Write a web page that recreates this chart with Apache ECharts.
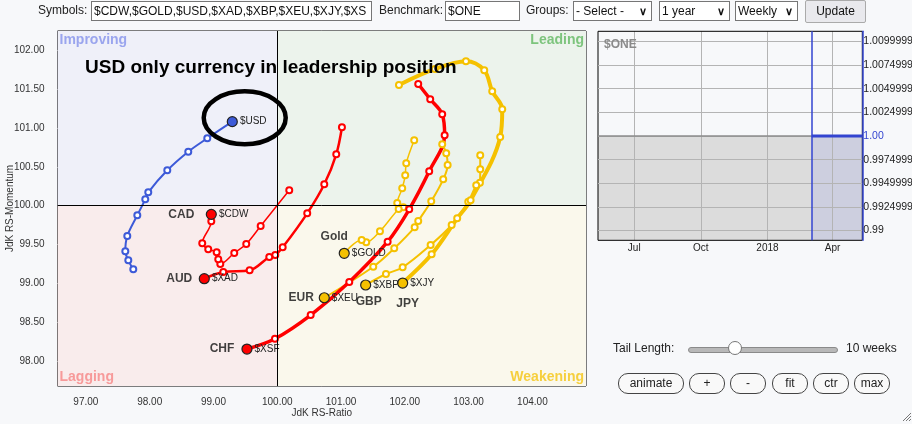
<!DOCTYPE html>
<html>
<head>
<meta charset="utf-8">
<script src="https://cdn.jsdelivr.net/npm/echarts@6/dist/echarts.min.js"></script>
<style>
html, body { margin: 0; padding: 0; background: #f7f8fa; font-family: Arial, 'Liberation Sans', sans-serif; font-size: 12px; color: #222; }
#wrap { position: relative; width: 912px; height: 424px; overflow: hidden; }
#chart { position: absolute; left: 0; top: 0; width: 912px; height: 424px; }
.ui { position: absolute; z-index: 5; }
.lbl { line-height: 20px; top: 0; }
.box { top: 1px; height: 20px; box-sizing: border-box; border: 1px solid #767676; background: #fff; font: 12px Arial, 'Liberation Sans', sans-serif; padding: 0 2px; line-height: 18px; white-space: nowrap; overflow: hidden; color: #111; }
.sel { top: 1px; height: 20px; box-sizing: border-box; border: 1px solid #767676; background: #fff; font: 12px Arial, 'Liberation Sans', sans-serif; padding: 0 2px; line-height: 18px; color: #111; }
.sel:after { content: '\2228'; position: absolute; right: 4px; top: 0; font-size: 11px; font-weight: bold; }
.btn { top: 0; height: 23px; box-sizing: border-box; border: 1px solid #aaa; background: #e9e9ed; border-radius: 2px; text-align: center; line-height: 21px; color: #111; }
.pill { top: 373px; height: 21px; box-sizing: border-box; border: 1px solid #444; border-radius: 10px; background: #f9f9f9; text-align: center; line-height: 19px; font-size: 12px; color: #222; }
.track { left: 688px; top: 347px; width: 148px; height: 4px; border: 1px solid #8a8a8a; border-radius: 3px; background: #b8b8b8; }
.knob { left: 728px; top: 341px; width: 14px; height: 14px; box-sizing: border-box; border: 1px solid #777; border-radius: 50%; background: #fff; }
</style>
</head>
<body>
<div id="wrap">
  <div id="chart"></div>

  <!-- top bar -->
  <div class="ui lbl" style="left:38px">Symbols:</div>
  <div class="ui box" style="left:91px;width:281px">$CDW,$GOLD,$USD,$XAD,$XBP,$XEU,$XJY,$XS</div>
  <div class="ui lbl" style="left:379px">Benchmark:</div>
  <div class="ui box" style="left:445px;width:75px">$ONE</div>
  <div class="ui lbl" style="left:526px">Groups:</div>
  <div class="ui sel" style="left:573px;width:79px">- Select -</div>
  <div class="ui sel" style="left:659px;width:71px">1 year</div>
  <div class="ui sel" style="left:735px;width:63px">Weekly</div>
  <div class="ui btn" style="left:805px;width:61px">Update</div>

  <!-- tail controls -->
  <div class="ui" style="left:613px;top:341px">Tail Length:</div>
  <div class="ui track"></div>
  <div class="ui knob"></div>
  <div class="ui" style="left:846px;top:341px">10 weeks</div>
  <div class="ui pill" style="left:618px;width:66px">animate</div>
  <div class="ui pill" style="left:689px;width:36px">+</div>
  <div class="ui pill" style="left:730px;width:36px">-</div>
  <div class="ui pill" style="left:772px;width:36px">fit</div>
  <div class="ui pill" style="left:813px;width:36px">ctr</div>
  <div class="ui pill" style="left:854px;width:36px">max</div>
  <svg class="ui" style="left:902px;top:412px" width="10" height="10">
    <path d="M1 9 L9 1 M4 9 L9 4 M7 9 L9 7" stroke="#777" stroke-width="1"/>
  </svg>
</div>

<script>
// RRG axis extents and ticks
const xMin = 96.555, xMax = 104.84, yMin = 97.683, yMax = 102.245
const ratioTicks = [97, 98, 99, 100, 101, 102, 103, 104]
const momentumTicks = [98, 98.5, 99, 99.5, 100, 100.5, 101, 101.5, 102]

// tails, oldest week first, latest week last
const usdTail = [[97.743, 99.183], [97.665, 99.298], [97.618, 99.414], [97.649, 99.611], [97.806, 99.877], [97.931, 100.082], [97.978, 100.172], [98.276, 100.455], [98.605, 100.694], [98.903, 100.866], [99.295, 101.08]]
const cdwTail = [[100.188, 100.198], [99.74, 99.739], [99.514, 99.508], [99.326, 99.392], [99.107, 99.251], [99.075, 99.311], [99.05, 99.401], [98.918, 99.44], [98.824, 99.517], [98.966, 99.80], [98.966, 99.889]]
const xadTail = [[101.014, 101.008], [100.925, 100.661], [100.737, 100.275], [100.47, 99.902], [100.085, 99.465], [99.969, 99.366], [99.875, 99.341], [99.567, 99.17], [99.154, 99.148], [98.856, 99.062]]
const xsfTail = [[102.21, 101.564], [102.398, 101.368], [102.586, 101.175], [102.624, 100.905], [102.382, 100.442], [102.069, 99.954], [101.73, 99.537], [101.129, 99.019], [100.524, 98.595], [99.964, 98.29], [99.525, 98.158]]
const goldTail = [[102.147, 100.841], [102.022, 100.545], [102.006, 100.391], [101.959, 100.224], [101.881, 100.035], [101.975, 99.979], [101.903, 99.958], [101.61, 99.671], [101.395, 99.53], [101.323, 99.559], [101.05, 99.388]]
const xbpTail = [[103.182, 100.648], [103.182, 100.468], [103.177, 100.296], [103.119, 100.262], [102.994, 100.051], [102.734, 99.752], [102.404, 99.495], [101.966, 99.208], [101.704, 99.122], [101.386, 98.981]]
const xeuTail = [[102.586, 100.789], [102.649, 100.674], [102.671, 100.523], [102.602, 100.339], [102.414, 100.057], [102.21, 99.803], [102.154, 99.722], [101.834, 99.452], [101.505, 99.216], [100.737, 98.817]]
const xjyTail = [[101.908, 101.551], [102.472, 101.757], [102.958, 101.856], [103.245, 101.74], [103.37, 101.47], [103.527, 101.239], [103.495, 100.883], [103.031, 100.069], [102.821, 99.838], [102.42, 99.375], [101.966, 99.006]]

const quadrantNames = ['Improving', 'Leading', 'Lagging', 'Weakening']
const headline = 'USD only currency in leadership position'
const ringAt = [99.49, 101.13]

// benchmark panel
const oneStart = '2017-05-12', oneEnd = '2018-05-12'
const oneHist = [['2017-05-12', 1.0], ['2018-03-03', 1.0]]
const oneTail = [['2018-03-03', 1.0], ['2018-05-12', 1.0]]
const quarterTicks = ['2017-07-01', '2017-10-01', '2018-01-01', '2018-04-01']
const quarterLabels = ['Jul', 'Oct', '2018', 'Apr']
const oneTicks = [0.99, 0.9925, 0.995, 0.9975, 1.0, 1.0025, 1.005, 1.0075, 1.01]
const oneLabels = ['0.99', '0.9924999', '0.9949999', '0.9974999', '1.00', '1.0024999', '1.0049999', '1.0074999', '1.0099999']

const RED = '#ff0000', YEL = '#f5c100', BLUE = '#3d5ad8'
const day = d => +new Date(d + 'T00:00:00')

function tail(name, color, width, pts) {
  const last = pts.length - 1
  return {
    type: 'line', name, xAxisIndex: 0, yAxisIndex: 0, z: 3,
    smooth: 0.35, symbol: 'emptyCircle', symbolSize: 6, showAllSymbol: true,
    lineStyle: { color, width },
    itemStyle: { color, borderColor: color, borderWidth: 1.5 },
    data: pts.map((p, i) => i < last ? { value: p } : {
      value: p, symbol: 'circle', symbolSize: 10,
      itemStyle: { color, borderColor: '#222', borderWidth: 1.2 },
      label: { show: true, position: 'right', distance: 2, formatter: name, color: '#222', fontSize: 10 },
    }),
  }
}

function tag(text, pts, dx, dy) {
  return { value: pts[pts.length - 1], label: { show: true, position: 'inside', offset: [dx, dy], formatter: text } }
}

const chart = echarts.init(document.getElementById('chart'))
const qtStamp = quarterTicks.map(day)
const histData = oneHist.map(([d, v]) => [day(d), v])
const tailData = oneTail.map(([d, v]) => [day(d), v])
const axisText = { color: '#333', fontSize: 10 }

chart.setOption({
  animation: false,
  backgroundColor: 'transparent',
  title: [
    { text: headline, left: 80, top: 53, textStyle: { fontSize: 19, fontWeight: 'bold', color: '#000', fontFamily: 'Arial' }, z: 6 },
    { text: '$ONE', left: 599, top: 34, textStyle: { fontSize: 12, fontWeight: 'bold', color: '#8a8a8a', fontFamily: 'Arial' }, z: 6 },
  ],
  grid: [
    { left: 57.5, top: 31, width: 528.5, height: 355, outerBoundsMode: 'none', containLabel: false, show: true, borderColor: '#000', borderWidth: 1, backgroundColor: 'transparent', z: 1 },
    { left: 598, top: 31.3, width: 264.3, height: 209, outerBoundsMode: 'none', containLabel: false, show: true, borderColor: '#000', borderWidth: 1, backgroundColor: 'transparent', z: 2.5 },
  ],
  xAxis: [
    {
      type: 'value', gridIndex: 0, min: xMin, max: xMax, z: 1,
      name: 'JdK RS-Ratio', nameLocation: 'middle', nameGap: 22.5, nameMoveOverlap: false, nameTextStyle: { color: '#333', fontSize: 10 },
      axisLine: { show: false }, axisTick: { show: false, customValues: ratioTicks },
      axisLabel: { ...axisText, margin: 11.5, customValues: ratioTicks, formatter: v => v.toFixed(2) },
      splitLine: { show: true, lineStyle: { color: '#dcdcdc', width: 1 } },
    },
    {
      type: 'value', gridIndex: 1, min: day(oneStart), max: day(oneEnd), z: 2,
      axisLine: { show: false }, axisTick: { show: false, customValues: qtStamp },
      axisLabel: { color: '#222', fontSize: 10, margin: 3, customValues: qtStamp, formatter: v => quarterLabels[qtStamp.indexOf(v)] ?? '' },
      splitLine: { show: true, lineStyle: { color: '#b4b4b4', width: 1 } },
    },
  ],
  yAxis: [
    {
      type: 'value', gridIndex: 0, min: yMin, max: yMax, z: 1,
      name: 'JdK RS-Momentum', nameLocation: 'middle', nameGap: 42, nameMoveOverlap: false, nameTextStyle: { color: '#333', fontSize: 10 },
      axisLine: { show: false }, axisTick: { show: false, customValues: momentumTicks },
      axisLabel: { ...axisText, margin: 13, customValues: momentumTicks, formatter: v => v.toFixed(2) },
      splitLine: { show: true, lineStyle: { color: '#dcdcdc', width: 1 } },
    },
    {
      type: 'value', gridIndex: 1, position: 'right', min: 0.98896, max: 1.01108, z: 3,
      axisLine: { show: true, lineStyle: { color: '#3344d0', width: 1.5 } },
      axisTick: { show: false, customValues: oneTicks },
      axisLabel: {
        fontSize: 10.5, margin: 1, customValues: oneTicks,
        color: v => Math.abs(v - 1) < 1e-9 ? '#3344d0' : '#222',
        formatter: v => oneLabels[oneTicks.findIndex(t => Math.abs(t - v) < 1e-9)] ?? '',
      },
      splitLine: { show: true, lineStyle: { color: '#b4b4b4', width: 1 } },
    },
  ],
  series: [
    // quadrant fills
    {
      type: 'line', name: 'quads', xAxisIndex: 0, yAxisIndex: 0, data: [], z: 0, silent: true,
      markArea: {
        silent: true,
        data: [
          [{ coord: [xMin, 100], itemStyle: { color: '#eff0f9' } }, { coord: [100, yMax] }],
          [{ coord: [100, 100], itemStyle: { color: '#ecf3ec' } }, { coord: [xMax, yMax] }],
          [{ coord: [xMin, yMin], itemStyle: { color: '#f9ecec' } }, { coord: [100, 100] }],
          [{ coord: [100, yMin], itemStyle: { color: '#faf8ec' } }, { coord: [xMax, 100] }],
        ],
      },
    },
    // centre lines and quadrant names
    {
      type: 'line', name: 'frame', xAxisIndex: 0, yAxisIndex: 0, data: [], z: 1.5, silent: true,
      markLine: {
        silent: true, symbol: 'none', label: { show: false },
        lineStyle: { color: '#000', width: 1, type: 'solid' },
        data: [{ xAxis: 100 }, { yAxis: 100 }],
      },
      markArea: {
        silent: true,
        itemStyle: { color: 'transparent' },
        label: { fontSize: 14, fontWeight: 'bold', fontFamily: 'Arial', distance: 2 },
        data: [
          [{ coord: [xMin, 100], name: quadrantNames[0], label: { position: 'insideTopLeft', color: '#9aa5ee' } }, { coord: [100, yMax] }],
          [{ coord: [100, 100], name: quadrantNames[1], label: { position: 'insideTopRight', color: '#7dc47d' } }, { coord: [xMax, yMax] }],
          [{ coord: [xMin, yMin], name: quadrantNames[2], label: { position: 'insideBottomLeft', color: '#f79a9a' } }, { coord: [100, 100] }],
          [{ coord: [100, yMin], name: quadrantNames[3], label: { position: 'insideBottomRight', color: '#f6cf3d' } }, { coord: [xMax, 100] }],
        ],
      },
    },
    tail('$CDW', RED, 1.5, cdwTail),
    tail('$XAD', RED, 2.5, xadTail),
    tail('$GOLD', YEL, 1.5, goldTail),
    tail('$XEU', YEL, 2, xeuTail),
    tail('$XBP', YEL, 2, xbpTail),
    tail('$XJY', YEL, 4, xjyTail),
    tail('$XSF', RED, 3.5, xsfTail),
    tail('$USD', BLUE, 2, usdTail),
    // currency names
    {
      type: 'scatter', name: 'tags', xAxisIndex: 0, yAxisIndex: 0, z: 4, silent: true,
      symbolSize: 0,
      label: { color: '#111', fontSize: 12, fontWeight: 'bold', fontFamily: 'Arial' },
      data: [
        tag('CAD', cdwTail, -30, 0),
        tag('AUD', xadTail, -25, 0),
        tag('CHF', xsfTail, -25, 0),
        tag('Gold', goldTail, -10, -17),
        tag('EUR', xeuTail, -23, 0),
        tag('GBP', xbpTail, 3, 17),
        tag('JPY', xjyTail, 5, 21),
      ],
    },
    // benchmark panel
    {
      type: 'line', name: 'oneHistArea', xAxisIndex: 1, yAxisIndex: 1, z: 1, silent: true,
      symbol: 'none', data: histData, lineStyle: { width: 0 },
      areaStyle: { color: '#dcdcdc', opacity: 1, origin: 'start' },
    },
    {
      type: 'line', name: 'oneTailArea', xAxisIndex: 1, yAxisIndex: 1, z: 1, silent: true,
      symbol: 'none', data: tailData, lineStyle: { width: 0 },
      areaStyle: { color: '#cdcfdf', opacity: 1, origin: 'start' },
    },
    {
      type: 'line', name: 'oneHist', xAxisIndex: 1, yAxisIndex: 1, z: 4, silent: true,
      symbol: 'none', data: histData, lineStyle: { color: '#8c8c8c', width: 1.5 },
    },
    {
      type: 'line', name: 'oneTail', xAxisIndex: 1, yAxisIndex: 1, z: 4, silent: true,
      symbol: 'none', data: tailData, lineStyle: { color: '#3344d0', width: 3 },
      markLine: {
        silent: true, symbol: 'none', label: { show: false },
        lineStyle: { color: '#3344d0', width: 1.5, type: 'solid' },
        data: [{ xAxis: tailData[0][0] }],
      },
    },
  ],
})

// hand-drawn ring round USD
const ring = chart.convertToPixel({ gridIndex: 0 }, ringAt)
chart.setOption({
  graphic: [{
    type: 'ellipse', z: 10, silent: true,
    shape: { cx: ring[0], cy: ring[1], rx: 41, ry: 26.5 },
    style: { fill: 'none', stroke: '#000', lineWidth: 4.5 },
  }],
})
</script>
</body>
</html>
